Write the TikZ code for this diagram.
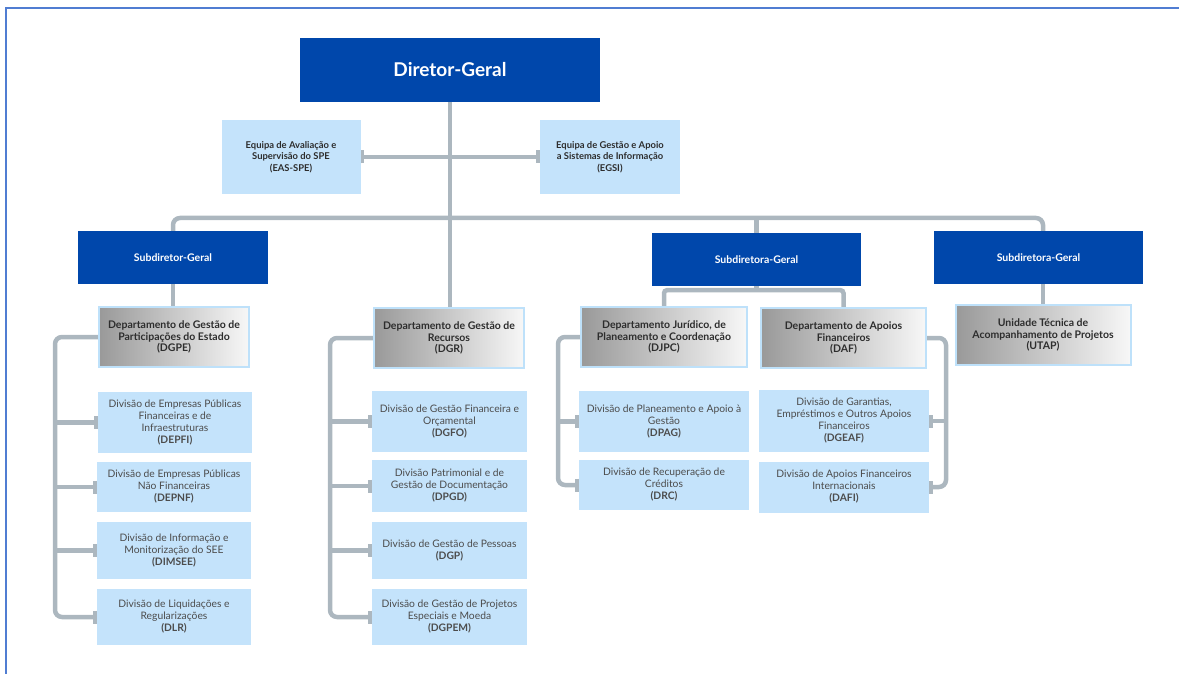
\documentclass[tikz,border=0pt]{standalone}
\usepackage{fontspec}
\setmainfont{Lato}
\usetikzlibrary{arrows.meta,backgrounds}
\definecolor{dgblue}{RGB}{0,71,171}
\definecolor{boxblue}{RGB}{196,227,251}
\definecolor{linegray}{RGB}{172,183,191}
\definecolor{edgeblue}{RGB}{190,225,250}
\definecolor{txt}{RGB}{45,45,45}
\definecolor{framec}{RGB}{80,125,210}
\begin{document}
\begin{tikzpicture}[x=1pt,y=-1pt,
 top/.style={fill=dgblue,text=white,font=\bfseries\fontsize{19}{22}\selectfont,minimum width=300pt,minimum height=64pt},
 sub/.style={fill=dgblue,text=white,font=\bfseries\fontsize{10.5}{12}\selectfont,minimum width=209pt,minimum height=53pt},
 team/.style={fill=boxblue,text=txt,font=\bfseries\fontsize{9.4}{11.3}\selectfont,align=center,minimum width=139pt,minimum height=74pt,inner sep=1pt},
 dept/.style={draw=edgeblue,line width=2pt,left color=black!40,right color=black!3,text=txt,font=\bfseries\fontsize{10.5}{11.8}\selectfont,align=center,minimum height=60pt,inner sep=1pt},
 div/.style={fill=boxblue,text=txt!85,font=\fontsize{10.3}{12}\selectfont,align=center,inner sep=1pt},
 conn/.style={draw=linegray,line width=4.5pt,rounded corners=7pt},
 barend/.style={-{Bar[width=13pt,line width=3.5pt]}}]

\useasboundingbox (0,0) rectangle (1179,674);
\clip (0,0) rectangle (1179,674);
\draw[framec,line width=1.5pt] (6,8) rectangle (1200,700);

\node[top] (dg) at (450,70) {Diretor-Geral};
\node[team] (eas) at (291,157) {Equipa de Avaliação e\\Supervisão do SPE\\(EAS-SPE)};
\node[team,minimum width=140pt] (egsi) at (610,157) {Equipa de Gestão e Apoio\\a Sistemas de Informação\\(EGSI)};

\node[sub,minimum width=190pt] (sub1) at (173,257.5) {Subdiretor-Geral};
\node[sub] (sub2) at (756.5,259.5) {Subdiretora-Geral};
\node[sub] (sub3) at (1038.5,257.5) {Subdiretora-Geral};

\node[dept,minimum width=150pt] (dgpe) at (174,337) {Departamento de Gestão de\\Participações do Estado\\(DGPE)};
\node[dept,minimum width=150pt] (dgr) at (449,338) {Departamento de Gestão de\\Recursos\\(DGR)};
\node[dept,minimum width=166pt] (djpc) at (664,337) {Departamento Jurídico, de\\Planeamento e Coordenação\\(DJPC)};
\node[dept,minimum width=165pt] (daf) at (843.5,338) {Departamento de Apoios\\Financeiros\\(DAF)};
\node[dept,minimum width=175pt] (utap) at (1043,335) {Unidade Técnica de\\Acompanhamento de Projetos\\(UTAP)};

\node[div,minimum width=154pt,minimum height=61pt] (depfi) at (175,422.5) {Divisão de Empresas Públicas\\Financeiras e de\\Infraestruturas\\\textbf{(DEPFI)}};
\node[div,minimum width=154pt,minimum height=50pt] (depnf) at (174,487) {Divisão de Empresas Públicas\\Não Financeiras\\\textbf{(DEPNF)}};
\node[div,minimum width=154pt,minimum height=57pt] (dimsee) at (174,550.5) {Divisão de Informação e\\Monitorização do SEE\\\textbf{(DIMSEE)}};
\node[div,minimum width=154pt,minimum height=56pt] (dlr) at (174,617) {Divisão de Liquidações e\\Regularizações\\\textbf{(DLR)}};

\node[div,minimum width=155pt,minimum height=61pt] (dgfo) at (449.5,421.5) {Divisão de Gestão Financeira e\\Orçamental\\\textbf{(DGFO)}};
\node[div,minimum width=155pt,minimum height=52pt] (dpgd) at (449.5,486) {Divisão Patrimonial e de\\Gestão de Documentação\\\textbf{(DPGD)}};
\node[div,minimum width=155pt,minimum height=57pt] (dgp) at (449.5,550.5) {Divisão de Gestão de Pessoas\\\textbf{(DGP)}};
\node[div,minimum width=155pt,minimum height=56pt] (dgpem) at (449.5,617) {Divisão de Gestão de Projetos\\Especiais e Moeda\\\textbf{(DGPEM)}};

\node[div,minimum width=170pt,minimum height=61pt] (dpag) at (664,421.5) {Divisão de Planeamento e Apoio à\\Gestão\\\textbf{(DPAG)}};
\node[div,minimum width=170pt,minimum height=50pt] (drc) at (664,485) {Divisão de Recuperação de\\Créditos\\\textbf{(DRC)}};
\node[div,minimum width=170pt,minimum height=62pt] (dgeaf) at (844,421) {Divisão de Garantias,\\Empréstimos e Outros Apoios\\Financeiros\\\textbf{(DGEAF)}};
\node[div,minimum width=170pt,minimum height=51pt] (dafi) at (844,487) {Divisão de Apoios Financeiros\\Internacionais\\\textbf{(DAFI)}};

\begin{scope}[on background layer]
\coordinate (bus) at (450,218);
\draw[conn] (dg.south) -- (dg.south |- dgr.north);
\draw[conn,{Bar[width=13pt,line width=3.5pt]}-{Bar[width=13pt,line width=3.5pt]}] (eas.east) -- (egsi.west);
\draw[conn] (sub1.north) |- (bus) -| (sub3.north -| utap.north);
\draw[conn] (bus -| sub2.north) -- (sub2.north);
\draw[conn] (sub1.south) -- (sub1.south |- dgpe.north);
\draw[conn] (sub3.south -| utap.north) -- (utap.north);
\draw[conn] (sub2.south) -- ++(0,4) coordinate (s2);
\draw[conn,rounded corners=3pt] (djpc.north) |- (s2) -| (daf.north);

\draw[conn,barend] (dgpe.west) -- ++(-43,0) coordinate (t1) |- (dlr.west);
\foreach \n in {depfi,depnf,dimsee} \draw[conn,barend] (t1 |- \n.west) -- (\n.west);
\draw[conn,barend] (dgr.west) -- ++(-43,0) coordinate (t2) |- (dgpem.west);
\foreach \n in {dgfo,dpgd,dgp} \draw[conn,barend] (t2 |- \n.west) -- (\n.west);
\draw[conn,barend] (djpc.west) -- ++(-22,0) coordinate (t3) |- (drc.west);
\draw[conn,barend] (t3 |- dpag.west) -- (dpag.west);
\draw[conn,barend] (daf.east) -- ++(19,0) coordinate (t4) |- (dafi.east);
\draw[conn,barend] (t4 |- dgeaf.east) -- (dgeaf.east);
\end{scope}

\end{tikzpicture}
\end{document}
